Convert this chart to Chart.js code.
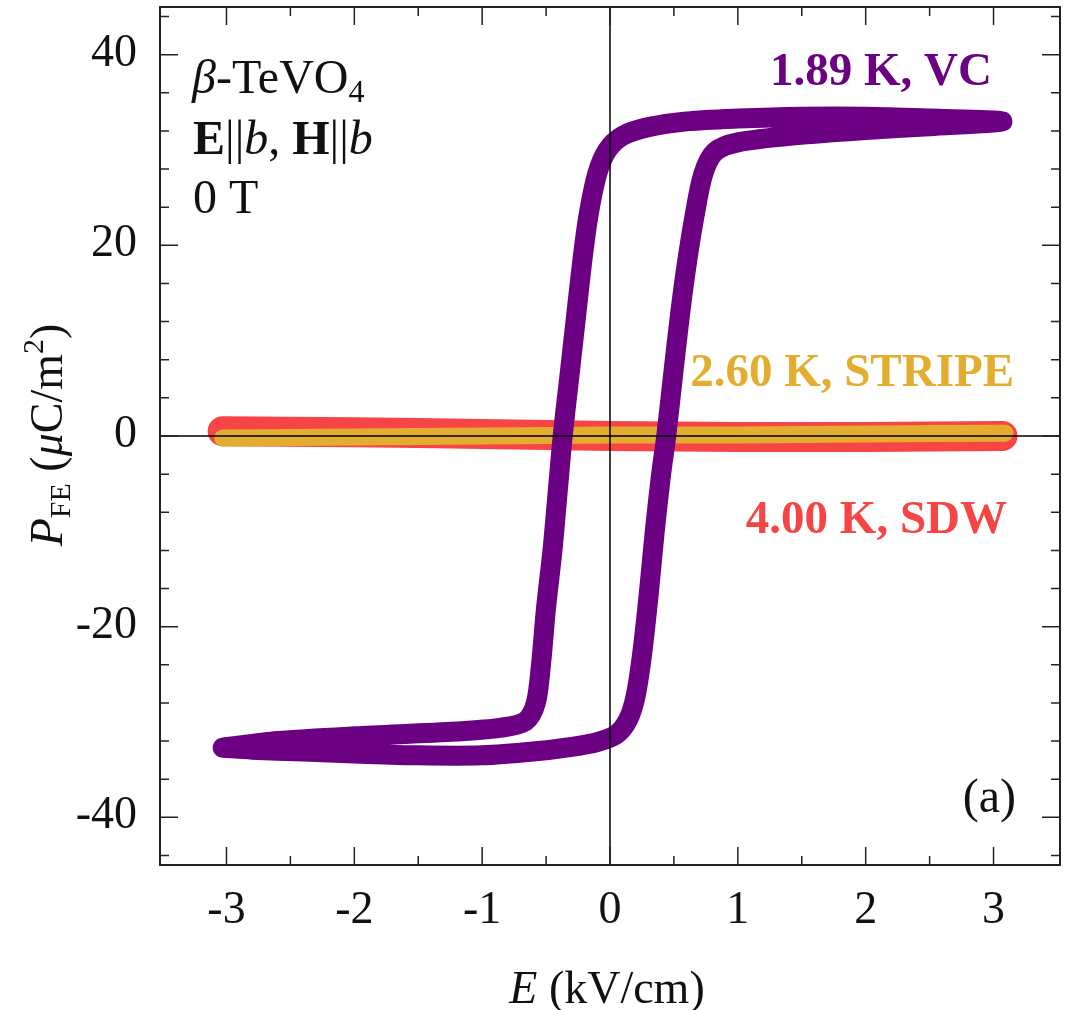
<!DOCTYPE html>
<html>
  <head>
    <title>P-E loops</title>
    <script src="https://cdn.jsdelivr.net/npm/chart.js"></script>
    <style>
      body { margin: 0; background: #fff; }
    </style>
  </head>
  <body>
    <canvas id="loopChart" width="1072" height="1010"></canvas>
    <script>
      // 1.89 K, VC  (lower branch going right, then upper branch coming back)
      var vcE = [-3.03, -2.8, -2.4, -2.0, -1.5, -1.0, -0.6, -0.3, -0.1, 0.05, 0.14, 0.2, 0.25, 0.3, 0.35, 0.4, 0.44, 0.49, 0.55, 0.6, 0.66, 0.73, 0.82, 1.0, 1.5, 2.0, 2.5, 3.07,
                 2.5, 2.0, 1.5, 1.0, 0.6, 0.3, 0.1, -0.02, -0.1, -0.17, -0.22, -0.27, -0.32, -0.37, -0.41, -0.45, -0.5, -0.54, -0.58, -0.66, -0.85, -1.2, -2.0, -2.6, -3.03];
      var vcP = [-32.7, -32.9, -33.1, -33.3, -33.5, -33.5, -33.1, -32.6, -32.1, -31.3, -29.8, -27.3, -23, -17, -10, -4, 0, 6, 13, 18, 23, 27.5, 29.8, 30.8, 31.6, 32.1, 32.5, 33.0,
                 33.3, 33.5, 33.5, 33.3, 33.0, 32.4, 31.5, 30.0, 27.5, 23, 18, 12, 6, 0, -6, -12, -18, -24, -28, -29.9, -30.6, -31.0, -31.5, -32.0, -32.7];

      // 2.60 K, STRIPE
      var stripeE = [-3.03, -2.0, -1.0, 0.0, 1.0, 2.0, 3.09];
      var stripeP = [-0.2, -0.1, 0.0, 0.1, 0.1, 0.2, 0.3];

      // 4.00 K, SDW
      var sdwE = [-3.03, -2.0, -1.0, 0.0, 1.0, 2.0, 3.07];
      var sdwP = [0.5, 0.4, 0.2, 0.0, -0.1, -0.1, 0.0];

      var xTicks = [-3, -2, -1, 0, 1, 2, 3];
      var xMinor = [-2.5, -1.5, -0.5, 0.5, 1.5, 2.5];
      var yTicks = [-40, -20, 0, 20, 40];
      var yMinor = [-44, -36, -32, -28, -24, -16, -12, -8, -4, 4, 8, 12, 16, 24, 28, 32, 36, 44];

      var PURPLE = "#6b0083";
      var GOLD = "#e3ae30";
      var RED = "#f74444";
      var FONT = '"Liberation Serif", "Times New Roman", serif';

      function pts(xs, ys) {
        return xs.map(function (x, i) { return { x: x, y: ys[i] }; });
      }

      function fontOf(p, base) {
        return (p.i ? "italic " : "") + (p.b ? "bold " : "") + (p.s || base) + "px " + FONT;
      }

      function drawParts(ctx, x, y, parts, align, base) {
        var total = 0;
        parts.forEach(function (p) {
          ctx.font = fontOf(p, base);
          p.w = ctx.measureText(p.t).width;
          total += p.w;
        });
        var cx = align === "right" ? x - total : align === "center" ? x - total / 2 : x;
        parts.forEach(function (p) {
          ctx.font = fontOf(p, base);
          ctx.fillText(p.t, cx, y + (p.dy || 0));
          cx += p.w;
        });
      }

      var zeroLines = {
        id: "zeroLines",
        afterDatasetsDraw: function (chart) {
          var ctx = chart.ctx, a = chart.chartArea;
          var x0 = chart.scales.x.getPixelForValue(0);
          var y0 = chart.scales.y.getPixelForValue(0);
          ctx.save();
          ctx.strokeStyle = "#000";
          ctx.lineWidth = 1.5;
          ctx.beginPath();
          ctx.moveTo(a.left, y0); ctx.lineTo(a.right, y0);
          ctx.moveTo(x0, a.top); ctx.lineTo(x0, a.bottom);
          ctx.stroke();
          ctx.restore();
        }
      };

      var frame = {
        id: "frame",
        afterDraw: function (chart) {
          var ctx = chart.ctx, a = chart.chartArea;
          var sx = chart.scales.x, sy = chart.scales.y;
          ctx.save();
          ctx.strokeStyle = "#222";
          ctx.lineWidth = 2;
          ctx.strokeRect(a.left, a.top, a.right - a.left, a.bottom - a.top);

          ctx.lineWidth = 1.5;
          ctx.beginPath();
          function xt(v, len) {
            var px = sx.getPixelForValue(v);
            ctx.moveTo(px, a.bottom); ctx.lineTo(px, a.bottom - len);
            ctx.moveTo(px, a.top); ctx.lineTo(px, a.top + len);
          }
          function yt(v, len) {
            var py = sy.getPixelForValue(v);
            ctx.moveTo(a.left, py); ctx.lineTo(a.left + len, py);
            ctx.moveTo(a.right, py); ctx.lineTo(a.right - len, py);
          }
          xTicks.forEach(function (v) { xt(v, 18); });
          xMinor.forEach(function (v) { xt(v, 9); });
          yTicks.forEach(function (v) { yt(v, 18); });
          yMinor.forEach(function (v) { yt(v, 9); });
          ctx.stroke();

          // tick labels
          ctx.fillStyle = "#111";
          ctx.font = "46px " + FONT;
          ctx.textBaseline = "alphabetic";
          ctx.textAlign = "center";
          xTicks.forEach(function (v) {
            ctx.fillText(String(v), sx.getPixelForValue(v), 923);
          });
          ctx.textAlign = "right";
          ctx.textBaseline = "middle";
          yTicks.forEach(function (v) {
            ctx.fillText(String(v), a.left - 23, sy.getPixelForValue(v) - 1);
          });

          // axis titles
          ctx.textAlign = "left";
          ctx.textBaseline = "alphabetic";
          drawParts(ctx, 607, 1003, [{ t: "E", i: 1 }, { t: " (kV/cm)" }], "center", 46);
          ctx.save();
          ctx.translate(62, 435);
          ctx.rotate(-Math.PI / 2);
          drawParts(ctx, 0, 0, [
            { t: "P", i: 1 }, { t: "FE", s: 30, dy: 8 }, { t: " (" }, { t: "\u03bc", i: 1 },
            { t: "C/m" }, { t: "2", s: 30, dy: -19 }, { t: ")" }
          ], "center", 46);
          ctx.restore();

          // annotations
          ctx.fillStyle = "#111";
          drawParts(ctx, 192, 93, [{ t: "\u03b2", i: 1 }, { t: "-TeVO" }, { t: "4", s: 32, dy: 9 }], "left", 48);
          drawParts(ctx, 193, 154, [
            { t: "E", b: 1 }, { t: "||" }, { t: "b", i: 1 }, { t: ", " },
            { t: "H", b: 1 }, { t: "||" }, { t: "b", i: 1 }
          ], "left", 48);
          drawParts(ctx, 193, 213, [{ t: "0 T" }], "left", 48);
          drawParts(ctx, 1016, 812, [{ t: "(a)" }], "right", 48);

          ctx.fillStyle = PURPLE;
          drawParts(ctx, 992, 85, [{ t: "1.89 K, VC", b: 1 }], "right", 47);
          ctx.fillStyle = GOLD;
          drawParts(ctx, 1014, 386, [{ t: "2.60 K, STRIPE", b: 1 }], "right", 47);
          ctx.fillStyle = RED;
          drawParts(ctx, 1007, 533, [{ t: "4.00 K, SDW", b: 1 }], "right", 47);
          ctx.restore();
        }
      };

      function band(label, data, color, width, order) {
        return {
          label: label,
          data: data,
          showLine: true,
          borderColor: color,
          backgroundColor: color,
          borderWidth: width,
          borderCapStyle: "round",
          borderJoinStyle: "round",
          pointRadius: 0,
          tension: 0.3,
          order: order
        };
      }

      var ctx = document.getElementById("loopChart").getContext("2d");
      var loopChart = new Chart(ctx, {
        type: "scatter",
        data: {
          datasets: [
            band("1.89 K, VC", pts(vcE, vcP), PURPLE, 20, 0),
            band("2.60 K, STRIPE", pts(stripeE, stripeP), GOLD, 17, 1),
            band("4.00 K, SDW", pts(sdwE, sdwP), RED, 30, 2)
          ]
        },
        options: {
          responsive: false,
          animation: false,
          layout: { padding: { left: 160, right: 12, top: 7, bottom: 145 } },
          plugins: { legend: { display: false }, tooltip: { enabled: false } },
          scales: {
            x: { type: "linear", min: -3.52, max: 3.52, display: false },
            y: { type: "linear", min: -45, max: 45, display: false }
          }
        },
        plugins: [zeroLines, frame]
      });
    </script>
  </body>
</html>
